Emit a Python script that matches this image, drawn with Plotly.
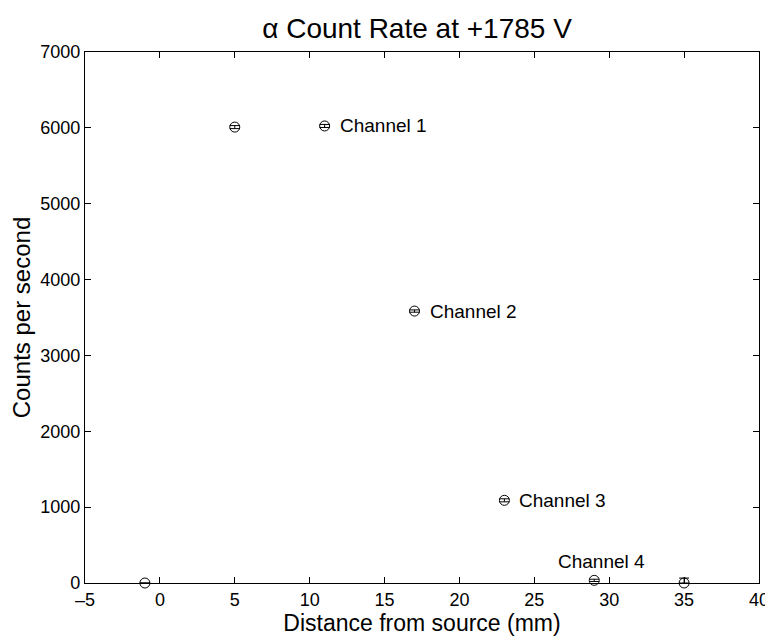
import plotly.graph_objects as go

distance_mm = [-1, 5, 11, 17, 23, 29, 35]
counts_per_sec = [0, 6010, 6025, 3585, 1090, 35, 0]
err_plus = [0, 20, 20, 15, 20, 15, 65]
err_minus = [0, 20, 20, 15, 20, 15, 0]
labels = ["", "", "Channel 1", "Channel 2", "Channel 3", "Channel 4", ""]
x_ticks = [-5, 0, 5, 10, 15, 20, 25, 30, 35, 40]
x_tick_text = ["\u20135", "0", "5", "10", "15", "20", "25", "30", "35", "40"]
y_ticks = [0, 1000, 2000, 3000, 4000, 5000, 6000, 7000]

W, H = 765, 628

fig = go.Figure()
fig.add_trace(go.Scatter(
    x=distance_mm, y=counts_per_sec, mode="markers",
    marker=dict(symbol="circle-open", size=10, color="black", line=dict(width=1)),
    error_y=dict(type="data", symmetric=False, array=err_plus, arrayminus=err_minus,
                 color="black", thickness=1, width=5),
    cliponaxis=False,
    showlegend=False,
))

for xv, yv, lab in zip(distance_mm, counts_per_sec, labels):
    if not lab:
        continue
    if lab == "Channel 4":
        fig.add_annotation(x=xv, y=yv, text=lab, showarrow=False, xanchor="center",
                           yanchor="bottom", xshift=7, yshift=6,
                           font=dict(size=19, color="black"))
    else:
        fig.add_annotation(x=xv, y=yv, text=lab, showarrow=False, xanchor="left",
                           yanchor="middle", xshift=13,
                           font=dict(size=19, color="black"))

axis_common = dict(showline=True, linecolor="black", linewidth=1.2, mirror="ticks",
                   ticks="inside", ticklen=6, tickcolor="black", showgrid=False,
                   zeroline=False, automargin=False,
                   tickfont=dict(size=18, color="black"))

fig.update_layout(
    width=W, height=H,
    margin=dict(l=77, r=14, t=44, b=53),
    paper_bgcolor="white", plot_bgcolor="white",
    font=dict(family="Liberation Sans, Arial, sans-serif", color="black"),
    title=dict(text="\u03b1 Count Rate at +1785 V", xref="container", x=409 / W,
               xanchor="center", yref="container", y=1 - 20 / H, yanchor="middle",
               font=dict(size=28, color="black")),
    xaxis=dict(range=[-5, 40], tickvals=x_ticks, ticktext=x_tick_text,
               title=dict(text="Distance from source (mm)", font=dict(size=23), standoff=2),
               **axis_common),
    yaxis=dict(range=[0, 7000], tickvals=y_ticks,
               title=dict(text="Counts per second", font=dict(size=24), standoff=6),
               **axis_common),
)

fig.write_html("out.html")
